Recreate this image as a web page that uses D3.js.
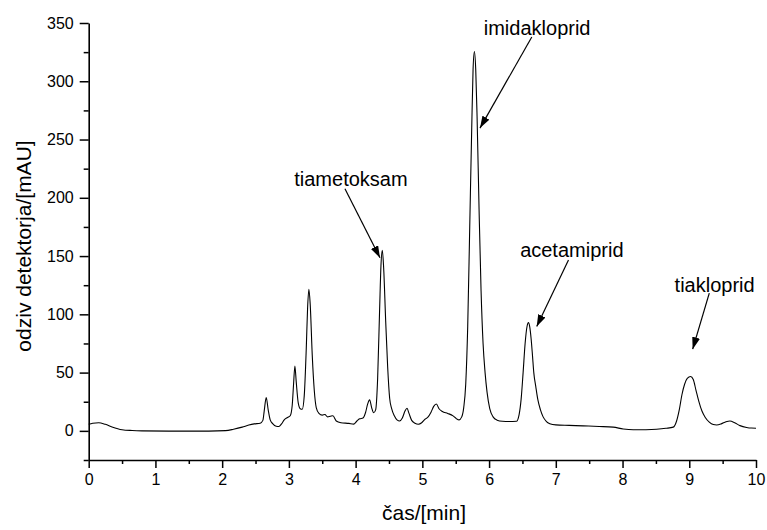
<!DOCTYPE html>
<html>
<head>
<meta charset="utf-8">
<script src="https://cdn.jsdelivr.net/npm/d3@7"></script>
<style>
  html, body { margin: 0; padding: 0; background: #fff; }
  svg { display: block; font-family: "Liberation Sans", Arial, Helvetica, sans-serif; }
</style>
</head>
<body>
<svg id="chart" width="767" height="530"></svg>
<script>
// Retention time (min) of each sampled point of the chromatogram
const times = [
  0.00, 0.06, 0.15, 0.25, 0.35, 0.50, 0.65, 0.80, 1.20, 1.80,
  2.05, 2.17, 2.30, 2.40, 2.48, 2.57, 2.61, 2.63, 2.66, 2.69,
  2.72, 2.76, 2.81, 2.85, 2.89, 2.93, 2.98, 3.02, 3.05, 3.07,
  3.09, 3.11, 3.14, 3.17, 3.20, 3.23, 3.26, 3.28, 3.30, 3.32,
  3.35, 3.38, 3.41, 3.45, 3.50, 3.54, 3.58, 3.62, 3.66, 3.71,
  3.78, 3.90, 3.97, 4.02, 4.06, 4.11, 4.15, 4.18, 4.21, 4.24,
  4.27, 4.30, 4.33, 4.36, 4.38, 4.40, 4.42, 4.45, 4.48, 4.51,
  4.54, 4.58, 4.62, 4.66, 4.70, 4.74, 4.77, 4.80, 4.84, 4.89,
  4.94, 4.99, 5.04, 5.08, 5.13, 5.17, 5.21, 5.25, 5.30, 5.38,
  5.46, 5.51, 5.55, 5.59, 5.62, 5.65, 5.68, 5.71, 5.74, 5.76,
  5.78, 5.80, 5.82, 5.85, 5.88, 5.91, 5.94, 5.97, 6.01, 6.06,
  6.12, 6.20, 6.30, 6.41, 6.45, 6.48, 6.51, 6.54, 6.57, 6.59,
  6.61, 6.63, 6.65, 6.67, 6.70, 6.73, 6.77, 6.81, 6.86, 6.91,
  7.00, 7.20, 7.41, 7.65, 7.86, 8.01, 8.16, 8.35, 8.51, 8.65,
  8.76, 8.81, 8.85, 8.89, 8.93, 8.97, 9.02, 9.06, 9.10, 9.14,
  9.19, 9.24, 9.30, 9.36, 9.41, 9.48, 9.55, 9.61, 9.68, 9.76,
  9.86, 9.93, 10.00
];

// Detector response (mAU) at each retention time
const signal = [
  5.6, 6.6, 7.0, 5.6, 3.4, 1.0, 0.3, 0.0, -0.2, -0.2,
  0.2, 1.4, 3.2, 5.0, 6.0, 6.6, 9.0, 17.0, 28.6, 18.0,
  9.4, 6.0, 4.0, 3.7, 6.0, 9.4, 11.5, 13.0, 22.0, 40.0,
  55.7, 42.0, 24.0, 19.0, 18.5, 30.0, 70.0, 105.0, 121.5, 108.0,
  65.0, 35.0, 20.0, 15.0, 13.5, 14.0, 12.0, 12.5, 13.0, 8.5,
  7.0, 6.4, 5.8, 8.5, 10.3, 11.0, 16.0, 23.0, 26.6, 20.0,
  15.5, 18.0, 45.0, 105.0, 142.0, 155.0, 140.0, 95.0, 55.0, 28.0,
  19.0, 13.0, 9.5, 8.5, 11.0, 17.0, 19.4, 15.0, 9.0, 6.5,
  5.7, 7.0, 10.0, 11.5, 16.0, 21.0, 23.0, 19.0, 16.6, 15.0,
  12.9, 10.5, 9.4, 12.0, 20.0, 40.0, 90.0, 175.0, 260.0, 310.0,
  325.5, 310.0, 270.0, 190.0, 120.0, 75.0, 50.0, 33.0, 19.0, 12.0,
  9.2, 8.2, 8.0, 8.2, 14.0, 27.0, 50.0, 75.0, 90.0, 92.9,
  89.0, 79.0, 65.0, 50.0, 38.0, 27.0, 18.0, 12.0, 8.0, 6.2,
  5.1, 4.7, 4.3, 3.8, 3.2, 1.6, 0.9, 1.0, 1.4, 2.2,
  3.2, 8.5, 18.0, 31.0, 40.0, 45.0, 46.6, 44.0, 35.0, 26.0,
  17.0, 11.5, 7.5, 5.4, 5.0, 6.0, 7.8, 8.5, 7.0, 4.5,
  2.9, 2.4, 2.3
];

// Axis ticks
const xMajorTicks = [0, 1, 2, 3, 4, 5, 6, 7, 8, 9, 10];
const xMinorTicks = [0.5, 1.5, 2.5, 3.5, 4.5, 5.5, 6.5, 7.5, 8.5, 9.5];
const yMajorTicks = [0, 50, 100, 150, 200, 250, 300, 350];
const yMinorTicks = [-25, 25, 75, 125, 175, 225, 275, 325];

// Peak labels: compound name, where the name sits, and the arrow from it to the peak (min, mAU)
const peakNames   = ["tiametoksam", "imidakloprid", "acetamiprid", "tiakloprid"];
const labelTime   = [3.93, 6.72, 7.24, 9.38];
const labelValue  = [210.2, 339.8, 149.6, 119.5];
const arrowFromT  = [3.84, 6.64, 7.19, 9.30];
const arrowFromV  = [207.7, 338.0, 146.7, 118.2];
const arrowToT    = [4.365, 5.864, 6.714, 9.051];
const arrowToV    = [148.5, 259.8, 89.5, 70.1];

const svg = d3.select("#chart");

const x = d3.scaleLinear().domain([0, 10]).range([88.7, 756]);
const y = d3.scaleLinear().domain([-25, 350]).range([460, 23]);

// Arrowhead marker
svg.append("defs").append("marker")
  .attr("id", "arrowhead")
  .attr("markerUnits", "userSpaceOnUse")
  .attr("viewBox", "0 0 12 8")
  .attr("refX", 12).attr("refY", 4)
  .attr("markerWidth", 12).attr("markerHeight", 8)
  .attr("orient", "auto")
  .append("path")
  .attr("d", "M0,0 L12,4 L0,8 Z")
  .attr("fill", "#000");

// Chromatogram trace
const points = times.map((t, i) => [t, signal[i]]);
const line = d3.line()
  .x(d => x(d[0]))
  .y(d => y(d[1]))
  .curve(d3.curveMonotoneX);

svg.append("path")
  .datum(points)
  .attr("d", line)
  .attr("fill", "none")
  .attr("stroke", "#000")
  .attr("stroke-width", 1.1);

// Minor ticks
svg.append("g")
  .attr("transform", `translate(0,${y(-25)})`)
  .call(d3.axisBottom(x).tickValues(xMinorTicks).tickSize(4).tickSizeOuter(0).tickFormat(""))
  .call(g => g.select(".domain").remove())
  .call(g => g.selectAll("line").attr("stroke-width", 1.5));

svg.append("g")
  .attr("transform", `translate(${x(0)},0)`)
  .call(d3.axisLeft(y).tickValues(yMinorTicks).tickSize(5).tickSizeOuter(0).tickFormat(""))
  .call(g => g.select(".domain").remove())
  .call(g => g.selectAll("line").attr("stroke-width", 1.5));

// Major axes
const xAxis = svg.append("g")
  .attr("transform", `translate(0,${y(-25)})`)
  .call(d3.axisBottom(x).tickValues(xMajorTicks).tickSize(8).tickSizeOuter(0).tickPadding(6).tickFormat(d3.format("d")));

const yAxis = svg.append("g")
  .attr("transform", `translate(${x(0)},0)`)
  .call(d3.axisLeft(y).tickValues(yMajorTicks).tickSize(9).tickSizeOuter(0).tickPadding(6).tickFormat(d3.format("d")));

[xAxis, yAxis].forEach(g => {
  g.select(".domain").attr("stroke-width", 1.6);
  g.selectAll(".tick line").attr("stroke-width", 1.5);
  g.selectAll(".tick text")
    .attr("fill", "#000")
    .style("font-size", "16px")
    .style("font-family", "'Liberation Sans', Arial, sans-serif");
});

// Axis titles
svg.append("text")
  .attr("x", 424)
  .attr("y", 520)
  .attr("text-anchor", "middle")
  .style("font-size", "21px")
  .text("čas/[min]");

svg.append("text")
  .attr("transform", "translate(31,246) rotate(-90)")
  .attr("text-anchor", "middle")
  .style("font-size", "21px")
  .text("odziv detektorja/[mAU]");

// Peak labels with arrows
const labels = svg.append("g");
peakNames.forEach((name, i) => {
  labels.append("text")
    .attr("x", x(labelTime[i]))
    .attr("y", y(labelValue[i]))
    .attr("text-anchor", "middle")
    .style("font-size", "20px")
    .text(name);
  labels.append("line")
    .attr("x1", x(arrowFromT[i])).attr("y1", y(arrowFromV[i]))
    .attr("x2", x(arrowToT[i])).attr("y2", y(arrowToV[i]))
    .attr("stroke", "#000")
    .attr("stroke-width", 1.2)
    .attr("marker-end", "url(#arrowhead)");
});
</script>
</body>
</html>
